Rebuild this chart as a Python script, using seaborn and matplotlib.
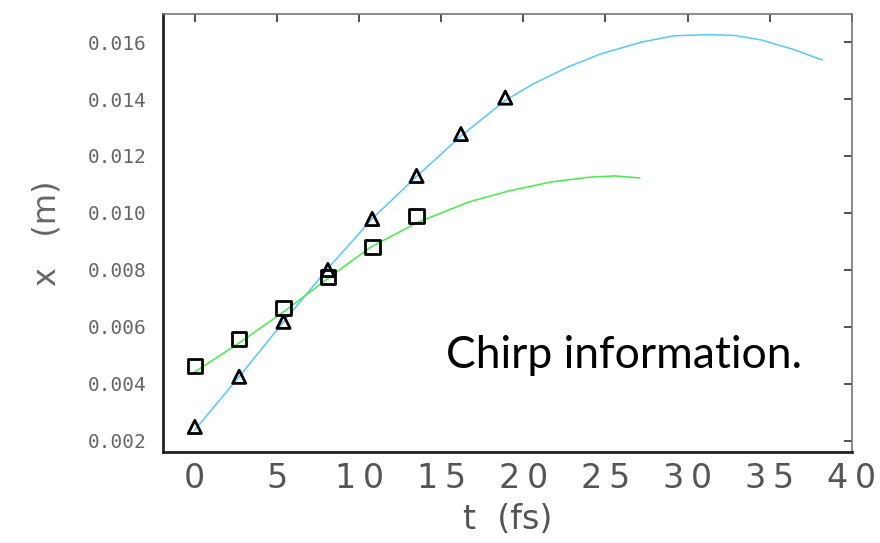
import matplotlib
matplotlib.use("Agg")
import matplotlib.pyplot as plt
import seaborn as sns
import pandas as pd

# ---- data ----
t_tri = [0, 2.7, 5.4, 8.1, 10.8, 13.5, 16.2, 18.9]
x_tri = [0.00249, 0.00425, 0.00618, 0.00800, 0.00979, 0.01130, 0.01277, 0.01405]

t_sq = [0, 2.7, 5.4, 8.1, 10.8, 13.5]
x_sq = [0.00463, 0.00558, 0.00667, 0.00775, 0.00880, 0.00989]

t_blue = [0, 2.7, 5.4, 8.1, 10.8, 13.5, 16.2, 18.9, 20.6, 22.7, 24.7, 27.2,
          29.2, 31.3, 32.9, 34.5, 36.4, 38.2]
x_blue = [0.00239, 0.00425, 0.00618, 0.00805, 0.00980, 0.01128, 0.01270, 0.01395,
          0.01453, 0.01512, 0.01558, 0.01600, 0.01622, 0.01626, 0.01623, 0.01607,
          0.01575, 0.01537]

t_green = [0, 2.7, 5.4, 8.1, 10.7, 13.6, 16.7, 19.1, 21.7, 24.1, 25.6, 27.1]
x_green = [0.00442, 0.00544, 0.00653, 0.00770, 0.00880, 0.00968, 0.01039, 0.01077,
           0.01109, 0.01126, 0.01130, 0.01123]

x_ticks = [0, 5, 10, 15, 20, 25, 30, 35, 40]
x_ticklabels = ["0", "5", "1\u20090", "1\u20095", "2\u20090", "2\u20095", "3\u20090", "3\u20095", "4\u20090"]
y_ticks = [0.002, 0.004, 0.006, 0.008, 0.010, 0.012, 0.014, 0.016]
y_ticklabels = ["0.002", "0.004", "0.006", "0.008", "0.010", "0.012", "0.014", "0.016"]

sns.set_style("white")
plt.rcParams["font.family"] = ["DejaVu Sans"]

fig = plt.figure(figsize=(8.8, 5.43), dpi=100)
ax = fig.add_axes([0.185, 0.1676, 0.783, 0.8064])

blue_df = pd.DataFrame({"t": t_blue, "x": x_blue})
green_df = pd.DataFrame({"t": t_green, "x": x_green})
tri_df = pd.DataFrame({"t": t_tri, "x": x_tri})
sq_df = pd.DataFrame({"t": t_sq, "x": x_sq})

sns.lineplot(data=blue_df, x="t", y="x", ax=ax, color="#55c8ff", lw=1.1, sort=False)
sns.lineplot(data=green_df, x="t", y="x", ax=ax, color="#44ee44", lw=1.1, sort=False)
sns.scatterplot(data=tri_df, x="t", y="x", ax=ax, marker="^", s=90,
                facecolor="none", edgecolor="black", linewidth=2, zorder=5)
sns.scatterplot(data=sq_df, x="t", y="x", ax=ax, marker="s", s=110,
                facecolor="none", edgecolor="black", linewidth=2, zorder=5)

ax.set_xlim(-1.95, 40)
ax.set_ylim(0.00161, 0.01698)
ax.set_xticks(x_ticks)
ax.set_xticklabels(x_ticklabels)
ax.set_yticks(y_ticks)
ax.set_yticklabels(y_ticklabels)

ax.tick_params(axis="both", direction="in", length=6, width=1.2, color="#333333",
               top=True, right=True)
ax.tick_params(axis="x", labelsize=24, labelcolor="#555555", pad=7)
ax.tick_params(axis="y", labelsize=14, labelcolor="#666666", pad=12)
for lab in ax.get_yticklabels():
    lab.set_family("DejaVu Sans Mono")

for side in ["left", "bottom"]:
    ax.spines[side].set_color("#222222")
    ax.spines[side].set_linewidth(2)
for side in ["top", "right"]:
    ax.spines[side].set_color("#777777")
    ax.spines[side].set_linewidth(1.2)

ax.set_xlabel("t  (fs)", fontsize=24, color="#555555", labelpad=6)
ax.set_ylabel("x   (m)", fontsize=23, color="#666666", labelpad=18)

ax.text(0.507, 0.346, "Chirp information.", transform=fig.transFigure,
        fontsize=32, family="Lato", color="black", va="center", ha="left")

fig.savefig("out.png", dpi=100)
